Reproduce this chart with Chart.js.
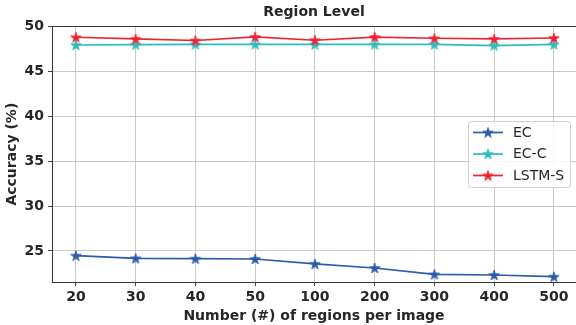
<!DOCTYPE html>
<html>
<head>
<meta charset="utf-8">
<script src="https://cdn.jsdelivr.net/npm/chart.js@4"></script>
<style>
html,body{margin:0;padding:0;background:#fff;}
#wrap{width:576px;height:325px;position:relative;}
</style>
</head>
<body>
<div id="wrap"><canvas id="c" width="576" height="325"></canvas></div>
<script>
const categories = ['20','30','40','50','100','200','300','400','500'];
const ecValues    = [24.48, 24.18, 24.14, 24.11, 23.56, 23.11, 22.40, 22.33, 22.14];
const eccValues   = [47.92, 47.96, 47.99, 48.00, 47.98, 47.98, 47.98, 47.86, 47.98];
const lstmValues  = [48.78, 48.60, 48.42, 48.82, 48.45, 48.80, 48.67, 48.60, 48.70];
const yTickValues = [25, 30, 35, 40, 45, 50];
const seriesNames = ['EC', 'EC-C', 'LSTM-S'];
const seriesColors = ['#2b5bab', '#2bbdbd', '#ee2432'];

function starCanvas(color, size) {
  const c = document.createElement('canvas');
  c.width = size; c.height = size;
  const g = c.getContext('2d');
  const cx = size / 2, cy = size / 2 + 0.5, R = size / 2 - 0.5, r = R * 0.381966;
  g.beginPath();
  for (let i = 0; i < 10; i++) {
    const a = -Math.PI / 2 + i * Math.PI / 5;
    const rad = i % 2 === 0 ? R : r;
    const x = cx + rad * Math.cos(a), y = cy + rad * Math.sin(a);
    if (i === 0) g.moveTo(x, y); else g.lineTo(x, y);
  }
  g.closePath();
  g.fillStyle = color; g.fill();
  g.lineWidth = 0.8; g.strokeStyle = color; g.stroke();
  return c;
}

const valueSets = [ecValues, eccValues, lstmValues];
const stars = seriesColors.map(c => starCanvas(c, 12));

const datasets = valueSets.map((vals, i) => ({
  label: seriesNames[i],
  data: vals.map((v, k) => ({x: k, y: v})),
  borderColor: seriesColors[i],
  backgroundColor: seriesColors[i],
  borderWidth: 1.7,
  pointStyle: stars[i],
  pointRadius: 6,
  tension: 0,
  order: 3 - i
}));

const FONT = "'DejaVu Sans', sans-serif";
const TXT = '#262626';

const legendPlugin = {
  id: 'mplLegend',
  afterDraw(chart) {
    const ctx = chart.ctx;
    const bx = 468.5, by = 121.5, bw = 102, bh = 66;
    ctx.save();
    ctx.fillStyle = 'rgba(255,255,255,0.85)';
    ctx.strokeStyle = '#d0d0d0';
    ctx.lineWidth = 1;
    const rr = 3;
    ctx.beginPath();
    ctx.moveTo(bx + rr, by);
    ctx.lineTo(bx + bw - rr, by); ctx.quadraticCurveTo(bx + bw, by, bx + bw, by + rr);
    ctx.lineTo(bx + bw, by + bh - rr); ctx.quadraticCurveTo(bx + bw, by + bh, bx + bw - rr, by + bh);
    ctx.lineTo(bx + rr, by + bh); ctx.quadraticCurveTo(bx, by + bh, bx, by + bh - rr);
    ctx.lineTo(bx, by + rr); ctx.quadraticCurveTo(bx, by, bx + rr, by);
    ctx.closePath();
    ctx.fill(); ctx.stroke();
    chart.data.datasets.forEach((ds, i) => {
      const y = 132.5 + i * 21.5;
      ctx.strokeStyle = ds.borderColor;
      ctx.lineWidth = 1.7;
      ctx.beginPath(); ctx.moveTo(473, y); ctx.lineTo(503, y); ctx.stroke();
      ctx.drawImage(ds.pointStyle, 488 - 6, y - 6);
      ctx.fillStyle = TXT;
      ctx.font = "14px " + FONT;
      ctx.textBaseline = 'middle';
      ctx.textAlign = 'left';
      ctx.fillText(ds.label, 513, y + 0.5);
    });
    ctx.restore();
  }
};

new Chart(document.getElementById('c'), {
  type: 'line',
  data: { datasets },
  options: {
    responsive: false,
    animation: false,
    devicePixelRatio: 1,
    layout: { autoPadding: false, padding: { left: 0, right: 0, top: 0, bottom: 0 } },
    plugins: {
      legend: { display: false },
      tooltip: { enabled: false },
      title: {
        display: true,
        text: 'Region Level',
        fullSize: false,
        color: TXT,
        font: { family: FONT, weight: 'bold', size: 14 },
        padding: { top: 4, bottom: 5.5 }
      }
    },
    scales: {
      x: {
        type: 'linear',
        min: -0.4,
        max: 8.37,
        afterBuildTicks(scale) { scale.ticks = categories.map((c, k) => ({ value: k })); },
        afterFit(scale) { scale.height = 43; scale.paddingLeft = 0; scale.paddingRight = 0; },
        ticks: {
          color: TXT,
          font: { family: FONT, weight: 'bold', size: 14 },
          padding: 3,
          maxRotation: 0,
          autoSkip: false,
          callback: (v) => categories[v]
        },
        grid: { color: '#c9c9c9', lineWidth: 1, tickLength: 4, tickColor: '#444' },
        border: { display: true, color: '#333', width: 1 },
        title: {
          display: true,
          text: 'Number (#) of regions per image',
          color: TXT,
          font: { family: FONT, weight: 'bold', size: 14 },
          padding: { top: 1, bottom: 0 }
        }
      },
      xTop: {
        type: 'linear',
        position: 'top',
        min: -0.4,
        max: 8.37,
        afterFit(scale) { scale.height = 0; scale.paddingLeft = 0; scale.paddingRight = 0; },
        ticks: { display: false },
        grid: { display: false, drawTicks: false },
        border: { display: true, color: '#333', width: 1 }
      },
      y: {
        min: 21.55,
        max: 50,
        afterBuildTicks(scale) { scale.ticks = yTickValues.map(v => ({ value: v })); },
        afterFit(scale) { scale.width = 52; scale.paddingTop = 0; scale.paddingBottom = 0; },
        ticks: {
          color: TXT,
          font: { family: FONT, weight: 'bold', size: 14 },
          padding: 4
        },
        grid: { color: '#c9c9c9', lineWidth: 1, tickLength: 4, tickColor: '#444' },
        border: { display: true, color: '#333', width: 1 },
        title: {
          display: true,
          text: 'Accuracy (%)',
          color: TXT,
          font: { family: FONT, weight: 'bold', size: 14 },
          padding: { top: 4, bottom: 2 }
        }
      }
    }
  },
  plugins: [legendPlugin]
});
</script>
</body>
</html>
